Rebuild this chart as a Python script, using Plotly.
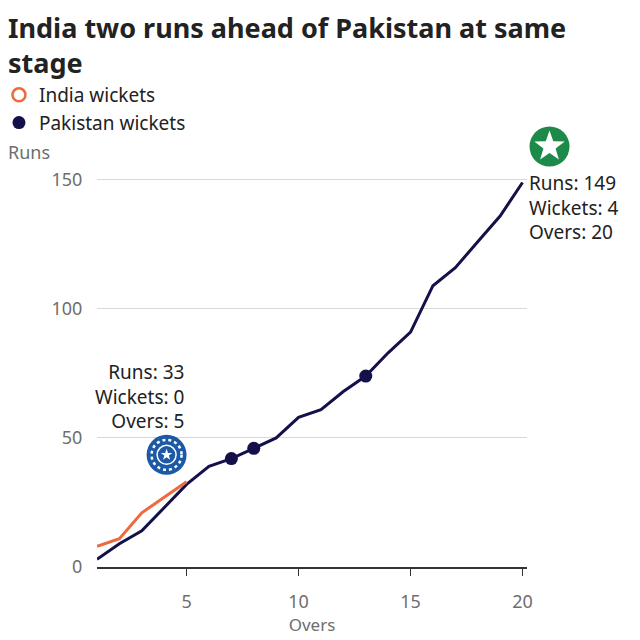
import math
import plotly.graph_objects as go

# ---- data ----
overs = list(range(1, 21))
india_overs = [1, 2, 3, 4, 5]
india_runs = [8, 11, 21, 27, 33]
pak_runs = [3, 9, 14, 23, 32, 39, 42, 46, 50, 58, 61, 68, 74, 83, 91, 109, 116, 126, 136, 149]
pak_wicket_overs = [7, 8, 13]
pak_wicket_runs = [42, 46, 74]
india_wicket_overs = []
india_wicket_runs = []
x_ticks = [5, 10, 15, 20]
y_ticks = [0, 50, 100, 150]

X_RANGE = [1, 20.2]
Y_RANGE = [0, 155]

INDIA = "#EC6A3D"
PAK = "#14104A"
GREY = "#6E6E6E"
DARK = "#222222"
FONT = "Noto Sans"

fig = go.Figure()

fig.add_trace(go.Scatter(x=overs, y=pak_runs, mode="lines",
                         line=dict(color=PAK, width=3), showlegend=False, hoverinfo="skip"))
fig.add_trace(go.Scatter(x=india_overs, y=india_runs, mode="lines",
                         line=dict(color=INDIA, width=3), showlegend=False, hoverinfo="skip"))
fig.add_trace(go.Scatter(x=india_wicket_overs or [None], y=india_wicket_runs or [None], mode="markers",
                         name="India wickets",
                         marker=dict(symbol="circle-open", size=13, color=INDIA, line=dict(width=2.5, color=INDIA))))
fig.add_trace(go.Scatter(x=pak_wicket_overs, y=pak_wicket_runs, mode="markers",
                         name="Pakistan wickets",
                         marker=dict(symbol="circle", size=13, color=PAK)))

# annotations for final values
ix, iy = india_overs[-1], india_runs[-1]
px_, py_ = overs[-1], pak_runs[-1]
fig.add_annotation(x=ix, y=iy, xref="x", yref="y", showarrow=False,
                   text=f"Runs: {iy}<br>Wickets: {len(india_wicket_overs)}<br>Overs: {ix}",
                   xanchor="right", yanchor="bottom", align="right", yshift=46, xshift=-1,
                   font=dict(family=FONT, size=19, color=DARK))
fig.add_annotation(x=px_, y=py_, xref="x", yref="y", showarrow=False,
                   text=f"Runs: {py_}<br>Wickets: 4<br>Overs: {px_}",
                   xanchor="left", yanchor="top", align="left", yshift=14, xshift=4,
                   font=dict(family=FONT, size=19, color=DARK))


def to_paper(x, y):
    return ((x - X_RANGE[0]) / (X_RANGE[1] - X_RANGE[0]),
            (y - Y_RANGE[0]) / (Y_RANGE[1] - Y_RANGE[0]))


def star_path(cx, cy, R):
    pts = []
    for k in range(10):
        rr = R if k % 2 == 0 else R * 0.40
        a = math.pi / 2 + k * math.pi / 5
        pts.append((cx + rr * math.cos(a), cy + rr * math.sin(a)))
    return "M " + " L ".join(f"{x:.2f},{y:.2f}" for x, y in pts) + " Z"


# team logos (pixel-sized shapes anchored at the last point, in paper space so not clipped)
def logo(xa, ya, dx, dy, fill, ring, star_r):
    xp, yp = to_paper(xa, ya)
    r = 20
    common = dict(xref="paper", yref="paper", xsizemode="pixel", ysizemode="pixel",
                  xanchor=xp, yanchor=yp, layer="above")

    def circ(rr, **kw):
        fig.add_shape(type="circle", x0=dx - rr, x1=dx + rr, y0=dy - rr, y1=dy + rr, **common, **kw)

    circ(r, fillcolor=fill, line=dict(width=0))
    if ring:
        circ(15, line=dict(width=2.5, color="white", dash="dot"))
        circ(9.5, line=dict(width=1.5, color="white"))
    fig.add_shape(type="path", path=star_path(dx, dy, star_r), fillcolor="white",
                  line=dict(width=0), **common)


logo(ix, iy, -20, 27, "#1C5AA6", True, 6)
logo(px_, py_, 27, 36, "#1E8A4A", False, 16)

fig.add_annotation(x=0, y=1, xref="paper", yref="paper", showarrow=False, text="Runs",
                   xanchor="left", yanchor="middle", xshift=-91, yshift=15,
                   font=dict(family=FONT, size=18, color=GREY))

fig.update_layout(
    width=632, height=632,
    margin=dict(l=89, r=113, t=159, b=73, autoexpand=False),
    paper_bgcolor="white", plot_bgcolor="white",
    font=dict(family=FONT, color=GREY),
    title=dict(text="<b>India two runs ahead of Pakistan at same<br>stage</b>",
               x=0, xanchor="left", xref="container", y=1 - 30 / 632, yanchor="top", yref="container",
               font=dict(family=FONT, size=27, color=DARK)),
    legend=dict(x=-0.228, xanchor="left", y=1.2275, yanchor="top", orientation="v",
                font=dict(family=FONT, size=19, color=DARK), tracegroupgap=0,
                itemwidth=30, bgcolor="rgba(0,0,0,0)"),
    showlegend=True,
)
fig.update_xaxes(range=X_RANGE, tickvals=x_ticks, showgrid=False, zeroline=False,
                 showline=True, linecolor="#333333", linewidth=2,
                 ticks="outside", ticklen=7, tickcolor="#333333", tickwidth=1,
                 ticklabelstandoff=10,
                 tickfont=dict(family=FONT, size=18, color=GREY),
                 title=dict(text="Overs", font=dict(family=FONT, size=17, color=GREY), standoff=0))
fig.update_yaxes(range=Y_RANGE, tickvals=y_ticks, showgrid=True, gridcolor="#D9D9D9", gridwidth=1,
                 zeroline=False, showline=False, ticks="outside", ticklen=10, tickcolor="rgba(0,0,0,0)",
                 tickfont=dict(family=FONT, size=18, color=GREY))

fig.write_html("out.html")
